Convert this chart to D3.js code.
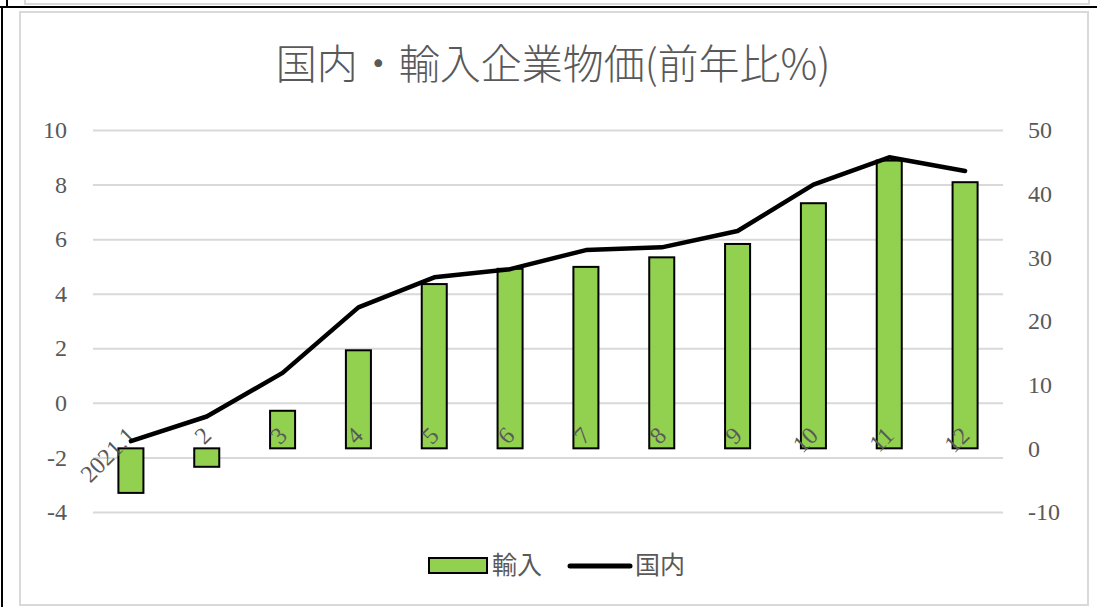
<!DOCTYPE html>
<html>
<head>
<meta charset="utf-8">
<script src="https://cdn.jsdelivr.net/npm/d3@7"></script>
<style>
  body { margin: 0; background: #fff; }
  svg { display: block; }
</style>
</head>
<body>
<div id="chart"></div>
<script>
// Values
const categories = ["2021.1", "2", "3", "4", "5", "6", "7", "8", "9", "10", "11", "12"];
const importYoY = [-7.0, -2.9, 5.9, 15.4, 25.8, 28.2, 28.5, 30.0, 32.1, 38.5, 45.2, 41.8];
const domesticYoY = [-1.4, -0.5, 1.1, 3.5, 4.6, 4.9, 5.6, 5.7, 6.3, 8.0, 9.0, 8.5];
const leftTicks = [-4, -2, 0, 2, 4, 6, 8, 10];
const rightTicks = [-10, 0, 10, 20, 30, 40, 50];

const W = 1097, H = 607;
const plot = { left: 93, right: 1003, top: 130, bottom: 512 };
const gray = "#595959";
const serif = "'Liberation Serif', 'DejaVu Serif', serif";
const cjk = "'Noto Sans CJK JP', 'Noto Sans', sans-serif";

const svg = d3.select("#chart").append("svg")
    .attr("width", W)
    .attr("height", H);

// frames around the chart (page remnants)
svg.append("rect")
    .attr("x", 25).attr("y", -10).attr("width", 1064).attr("height", 14)
    .attr("fill", "none").attr("stroke", "#d9d9d9").attr("stroke-width", 2);
svg.append("line")
    .attr("x1", 7).attr("x2", 7).attr("y1", 0).attr("y2", 7)
    .attr("stroke", "#000").attr("stroke-width", 2);
svg.append("line")
    .attr("x1", 0).attr("x2", W).attr("y1", 7).attr("y2", 7)
    .attr("stroke", "#000").attr("stroke-width", 2);
svg.append("line")
    .attr("x1", 2).attr("x2", 2).attr("y1", 7).attr("y2", H)
    .attr("stroke", "#000").attr("stroke-width", 2);
svg.append("rect")
    .attr("x", 20).attr("y", 12).attr("width", 1068).attr("height", 593)
    .attr("fill", "#fff").attr("stroke", "#d9d9d9").attr("stroke-width", 2);

// Title
svg.append("text")
    .attr("x", 553).attr("y", 79)
    .attr("text-anchor", "middle")
    .attr("font-family", cjk)
    .attr("font-size", "41px")
    .attr("font-weight", 300)
    .attr("fill", gray)
    .text("国内・輸入企業物価(前年比%)");

// Scales
const x = d3.scaleBand()
    .domain(categories)
    .range([plot.left, plot.right])
    .paddingInner(0.67)
    .paddingOuter(0.335);

const cx = d => x(d) + x.bandwidth() / 2;

const yL = d3.scaleLinear().domain([-4, 10]).range([plot.bottom, plot.top]);
const yR = d3.scaleLinear().domain([-10, 50]).range([plot.bottom, plot.top]);

const plain = d => String(d);

// Gridlines
const grid = svg.append("g")
    .attr("transform", `translate(${plot.left},0)`)
    .call(d3.axisLeft(yL).tickValues(leftTicks).tickSize(-(plot.right - plot.left)).tickFormat(""));
grid.select(".domain").remove();
grid.selectAll("line").attr("stroke", "#d9d9d9").attr("stroke-width", 2);

// Left axis labels
const axL = svg.append("g")
    .attr("transform", `translate(67,0)`)
    .call(d3.axisLeft(yL).tickValues(leftTicks).tickSize(0).tickPadding(0).tickFormat(plain));
axL.select(".domain").remove();
axL.selectAll("text")
    .attr("font-family", serif).attr("font-size", "24px").attr("fill", gray);

// Right axis labels
const axR = svg.append("g")
    .attr("transform", `translate(1028,0)`)
    .call(d3.axisRight(yR).tickValues(rightTicks).tickSize(0).tickPadding(0).tickFormat(plain));
axR.select(".domain").remove();
axR.selectAll("text")
    .attr("font-family", serif).attr("font-size", "24px").attr("fill", gray);

// Bars (import, right axis)
svg.selectAll(".bar")
    .data(importYoY)
    .enter().append("rect")
    .attr("class", "bar")
    .attr("x", (d, i) => x(categories[i]))
    .attr("width", x.bandwidth())
    .attr("y", d => Math.min(yR(d), yR(0)))
    .attr("height", d => Math.abs(yR(d) - yR(0)))
    .attr("fill", "#92d050")
    .attr("stroke", "#000")
    .attr("stroke-width", 2);

// Category labels, rotated
svg.selectAll(".cat")
    .data(categories)
    .enter().append("text")
    .attr("class", "cat")
    .attr("transform", d => `translate(${cx(d) + 6},437) rotate(-45)`)
    .attr("text-anchor", "end")
    .attr("font-family", serif)
    .attr("font-size", "24px")
    .attr("fill", gray)
    .text(d => d);

// Line (domestic, left axis)
const line = d3.line()
    .x((d, i) => cx(categories[i]))
    .y(d => yL(d));

svg.append("path")
    .datum(domesticYoY)
    .attr("d", line)
    .attr("fill", "none")
    .attr("stroke", "#000")
    .attr("stroke-width", 4.5)
    .attr("stroke-linejoin", "round")
    .attr("stroke-linecap", "round");

// Legend
const legend = svg.append("g");
legend.append("rect")
    .attr("x", 429).attr("y", 558).attr("width", 58).attr("height", 15)
    .attr("fill", "#92d050").attr("stroke", "#000").attr("stroke-width", 2);
legend.append("text")
    .attr("x", 492).attr("y", 574)
    .attr("font-family", cjk).attr("font-size", "25px").attr("fill", gray)
    .text("輸入");
legend.append("line")
    .attr("x1", 570).attr("x2", 630).attr("y1", 566).attr("y2", 566)
    .attr("stroke", "#000").attr("stroke-width", 5).attr("stroke-linecap", "round");
legend.append("text")
    .attr("x", 635).attr("y", 574)
    .attr("font-family", cjk).attr("font-size", "25px").attr("fill", gray)
    .text("国内");
</script>
</body>
</html>
